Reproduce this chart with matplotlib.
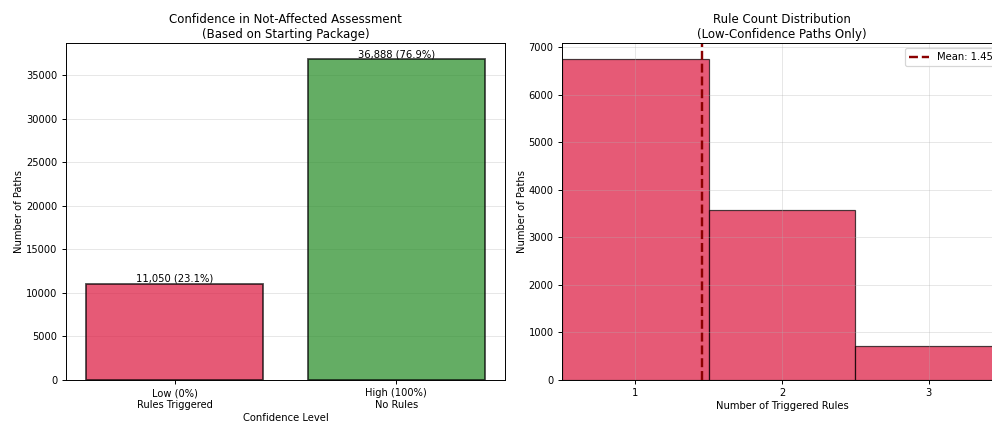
import matplotlib
matplotlib.use("Agg")
import matplotlib.pyplot as plt
import numpy as np

# Confidence split (left panel)
confidence_labels = ["Low (0%)\nRules Triggered", "High (100%)\nNo Rules"]
confidence_counts = [11050, 36888]
confidence_colors = ["crimson", "forestgreen"]

# Rule counts among low-confidence paths (right panel)
rule_counts = [1, 2, 3]
rule_frequencies = [6750, 3580, 720]

plt.rcParams["font.family"] = ["DejaVu Sans"]

DPI = 87
W, H = 992, 422
fig = plt.figure(figsize=(W / DPI, H / DPI), dpi=DPI)
ax1 = fig.add_axes([66 / W, 42 / H, 439 / W, 337 / H])
ax2 = fig.add_axes([562 / W, 42 / H, 440 / W, 337 / H])

# Left: confidence bars
total = sum(confidence_counts)
x = np.arange(len(confidence_labels))
bars = ax1.bar(x, confidence_counts, width=0.8, color=confidence_colors, alpha=0.7,
               edgecolor="black", linewidth=1.5)
for b, c in zip(bars, confidence_counts):
    ax1.text(b.get_x() + b.get_width() / 2, b.get_height(),
             f"{c:,} ({c / total * 100:.1f}%)", ha="center", va="bottom", fontsize=8.3)
ax1.set_xticks(x)
ax1.set_xticklabels(confidence_labels, fontsize=8.2)
ax1.tick_params(axis="y", labelsize=8.2)
ax1.set_xlabel("Confidence Level", fontsize=8.3, labelpad=2.5)
ax1.set_ylabel("Number of Paths", fontsize=8.3, labelpad=1.5)
ax1.set_title("Confidence in Not-Affected Assessment\n(Based on Starting Package)",
              fontsize=9.7, pad=4.5)
ax1.grid(axis="y", alpha=0.3)
ax1.set_axisbelow(True)

# Right: rule count distribution
ax2.bar(rule_counts, rule_frequencies, width=1.0, color="crimson", alpha=0.7,
        edgecolor="black", linewidth=1)
mean_rules = np.average(rule_counts, weights=rule_frequencies)
ax2.axvline(mean_rules, color="darkred", linestyle="--", linewidth=2,
            label=f"Mean: {mean_rules:.2f}")
ax2.set_xlim(0.5, 3.5)
ax2.set_xticks(rule_counts)
ax2.tick_params(labelsize=8.2)
ax2.set_xlabel("Number of Triggered Rules", fontsize=8.3, labelpad=2.5)
ax2.set_ylabel("Number of Paths", fontsize=8.3, labelpad=1.5)
ax2.set_title("Rule Count Distribution\n(Low-Confidence Paths Only)", fontsize=9.7, pad=4.5)
ax2.grid(alpha=0.3)
ax2.legend(loc="upper right", fontsize=8.3)

fig.savefig("out.png", dpi=DPI)
